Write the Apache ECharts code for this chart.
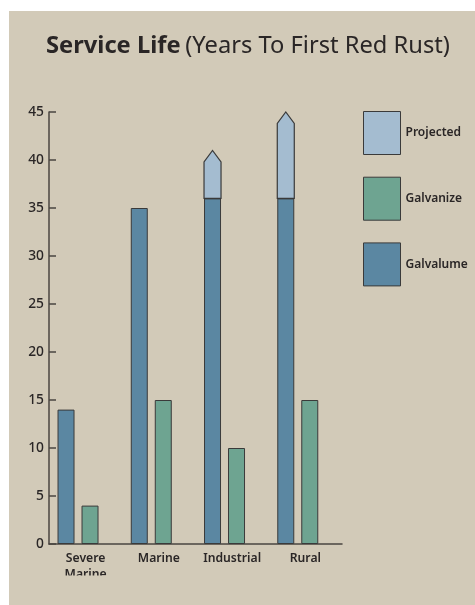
<!DOCTYPE html>
<html><head><meta charset="utf-8">
<script src="https://cdn.jsdelivr.net/npm/echarts@6/dist/echarts.min.js"></script>
<style>
html,body{margin:0;padding:0;background:#fff;}
#bg{position:absolute;left:9px;top:11px;width:466px;height:594px;background:#D2CAB8;}
#chart{position:absolute;left:0;top:0;width:475px;height:605px;}
</style></head><body>
<div id="bg"></div><div id="chart"></div>
<script>
const categories = ['Severe\nMarine', 'Marine', 'Industrial', 'Rural'];
const galvalume = [14, 35, 36, 36];
const galvanize = [4, 15, 10, 15];
const projectedTop = [null, null, 41, 45];
const legendNames = ['Projected', 'Galvanize', 'Galvalume'];

const C_GALVALUME = '#5B87A2', C_GALVANIZE = '#6EA491', C_PROJECTED = '#A4BCD0';
const STROKE = '#3a3a3a';
const BW = 17, GAP = 7, W3 = 8.2, TIP = 11.5;
const START = -(BW + GAP + BW + GAP + W3) / 2;

const projData = [];
projectedTop.forEach((v, i) => { if (v != null) projData.push([i, galvalume[i], v]); });

const chart = echarts.init(document.getElementById('chart'), null, {renderer: 'canvas'});
const FONT = 'Noto Sans';
chart.setOption({
  backgroundColor: 'transparent',
  animation: false,
  textStyle: {fontFamily: FONT},
  title: {
    text: '{b|Service Life} {r|(Years To First Red Rust)}',
    left: 41, top: 29,
    textStyle: {
      rich: {
        b: {fontFamily: FONT, fontSize: 23.7, fontWeight: 'bold', color: '#2a2626'},
        r: {fontFamily: FONT, fontSize: 23.7, fontWeight: 'normal', color: '#2a2626'}
      }
    }
  },
  legend: {
    orient: 'vertical', left: 363, top: 111, padding: 0,
    itemWidth: 37, itemHeight: 43, itemGap: 21.7,
    icon: 'rect',
    textStyle: {fontFamily: FONT, fontSize: 12, fontWeight: 600, color: '#2a2626'},
    data: [
      {name: 'Projected', itemStyle: {color: C_PROJECTED, borderColor: STROKE, borderWidth: 1}},
      {name: 'Galvanize', itemStyle: {color: C_GALVANIZE, borderColor: STROKE, borderWidth: 1}},
      {name: 'Galvalume', itemStyle: {color: C_GALVALUME, borderColor: STROKE, borderWidth: 1}}
    ]
  },
  grid: {left: 49, right: 133, top: 112, bottom: 61, containLabel: false},
  xAxis: {
    type: 'category', data: categories, boundaryGap: true,
    axisLine: {lineStyle: {color: '#4a4540', width: 1.5}},
    axisTick: {inside: true, length: 10, interval: 0, lineStyle: {color: '#4a4540', width: 1.5}},
    axisLabel: {interval: 0, margin: 7, fontFamily: FONT, fontSize: 12.2, fontWeight: 600, color: '#2a2626', lineHeight: 16}
  },
  yAxis: {
    type: 'value', min: 0, max: 45, interval: 5,
    splitLine: {show: false},
    axisLine: {show: true, lineStyle: {color: '#4a4540', width: 1.5}},
    axisTick: {show: true, inside: true, length: 7, lineStyle: {color: '#4a4540', width: 1.5}},
    axisLabel: {margin: 5, fontFamily: FONT, fontSize: 13.8, fontWeight: 500, color: '#2a2626'}
  },
  series: [
    {
      name: 'Projected', type: 'custom', z: 1,
      itemStyle: {color: C_PROJECTED, borderColor: STROKE, borderWidth: 1},
      encode: {x: 0, y: [1, 2]},
      data: projData,
      renderItem: function (params, api) {
        const cat = api.value(0), base = api.value(1), top = api.value(2);
        const pB = api.coord([cat, base]);
        const pT = api.coord([cat, top]);
        const x0 = pB[0] + START, x1 = x0 + BW, xm = (x0 + x1) / 2;
        return {
          type: 'polygon',
          shape: {points: [[x0, pB[1]], [x0, pT[1] + TIP], [xm, pT[1]], [x1, pT[1] + TIP], [x1, pB[1]]]},
          style: {fill: C_PROJECTED, stroke: STROKE, lineWidth: 1.2}
        };
      }
    },
    {
      name: 'Galvalume', type: 'bar', z: 3, barWidth: BW, barGap: (GAP / BW * 100) + '%',
      itemStyle: {color: C_GALVALUME, borderColor: STROKE, borderWidth: 1},
      data: galvalume
    },
    {
      name: 'Galvanize', type: 'bar', z: 3, barWidth: BW, barGap: (GAP / BW * 100) + '%',
      itemStyle: {color: C_GALVANIZE, borderColor: STROKE, borderWidth: 1},
      data: galvanize
    },
    {
      name: 'spacer', type: 'bar', barWidth: W3, barGap: (GAP / BW * 100) + '%', silent: true,
      itemStyle: {color: 'transparent', borderWidth: 0},
      data: categories.map(() => 0)
    }
  ],
  graphic: [
    {type: 'rect', z: 100, shape: {x: 49, y: 575.5, width: 80, height: 29.5}, style: {fill: '#D2CAB8'}, silent: true}
  ]
});
</script></body></html>
